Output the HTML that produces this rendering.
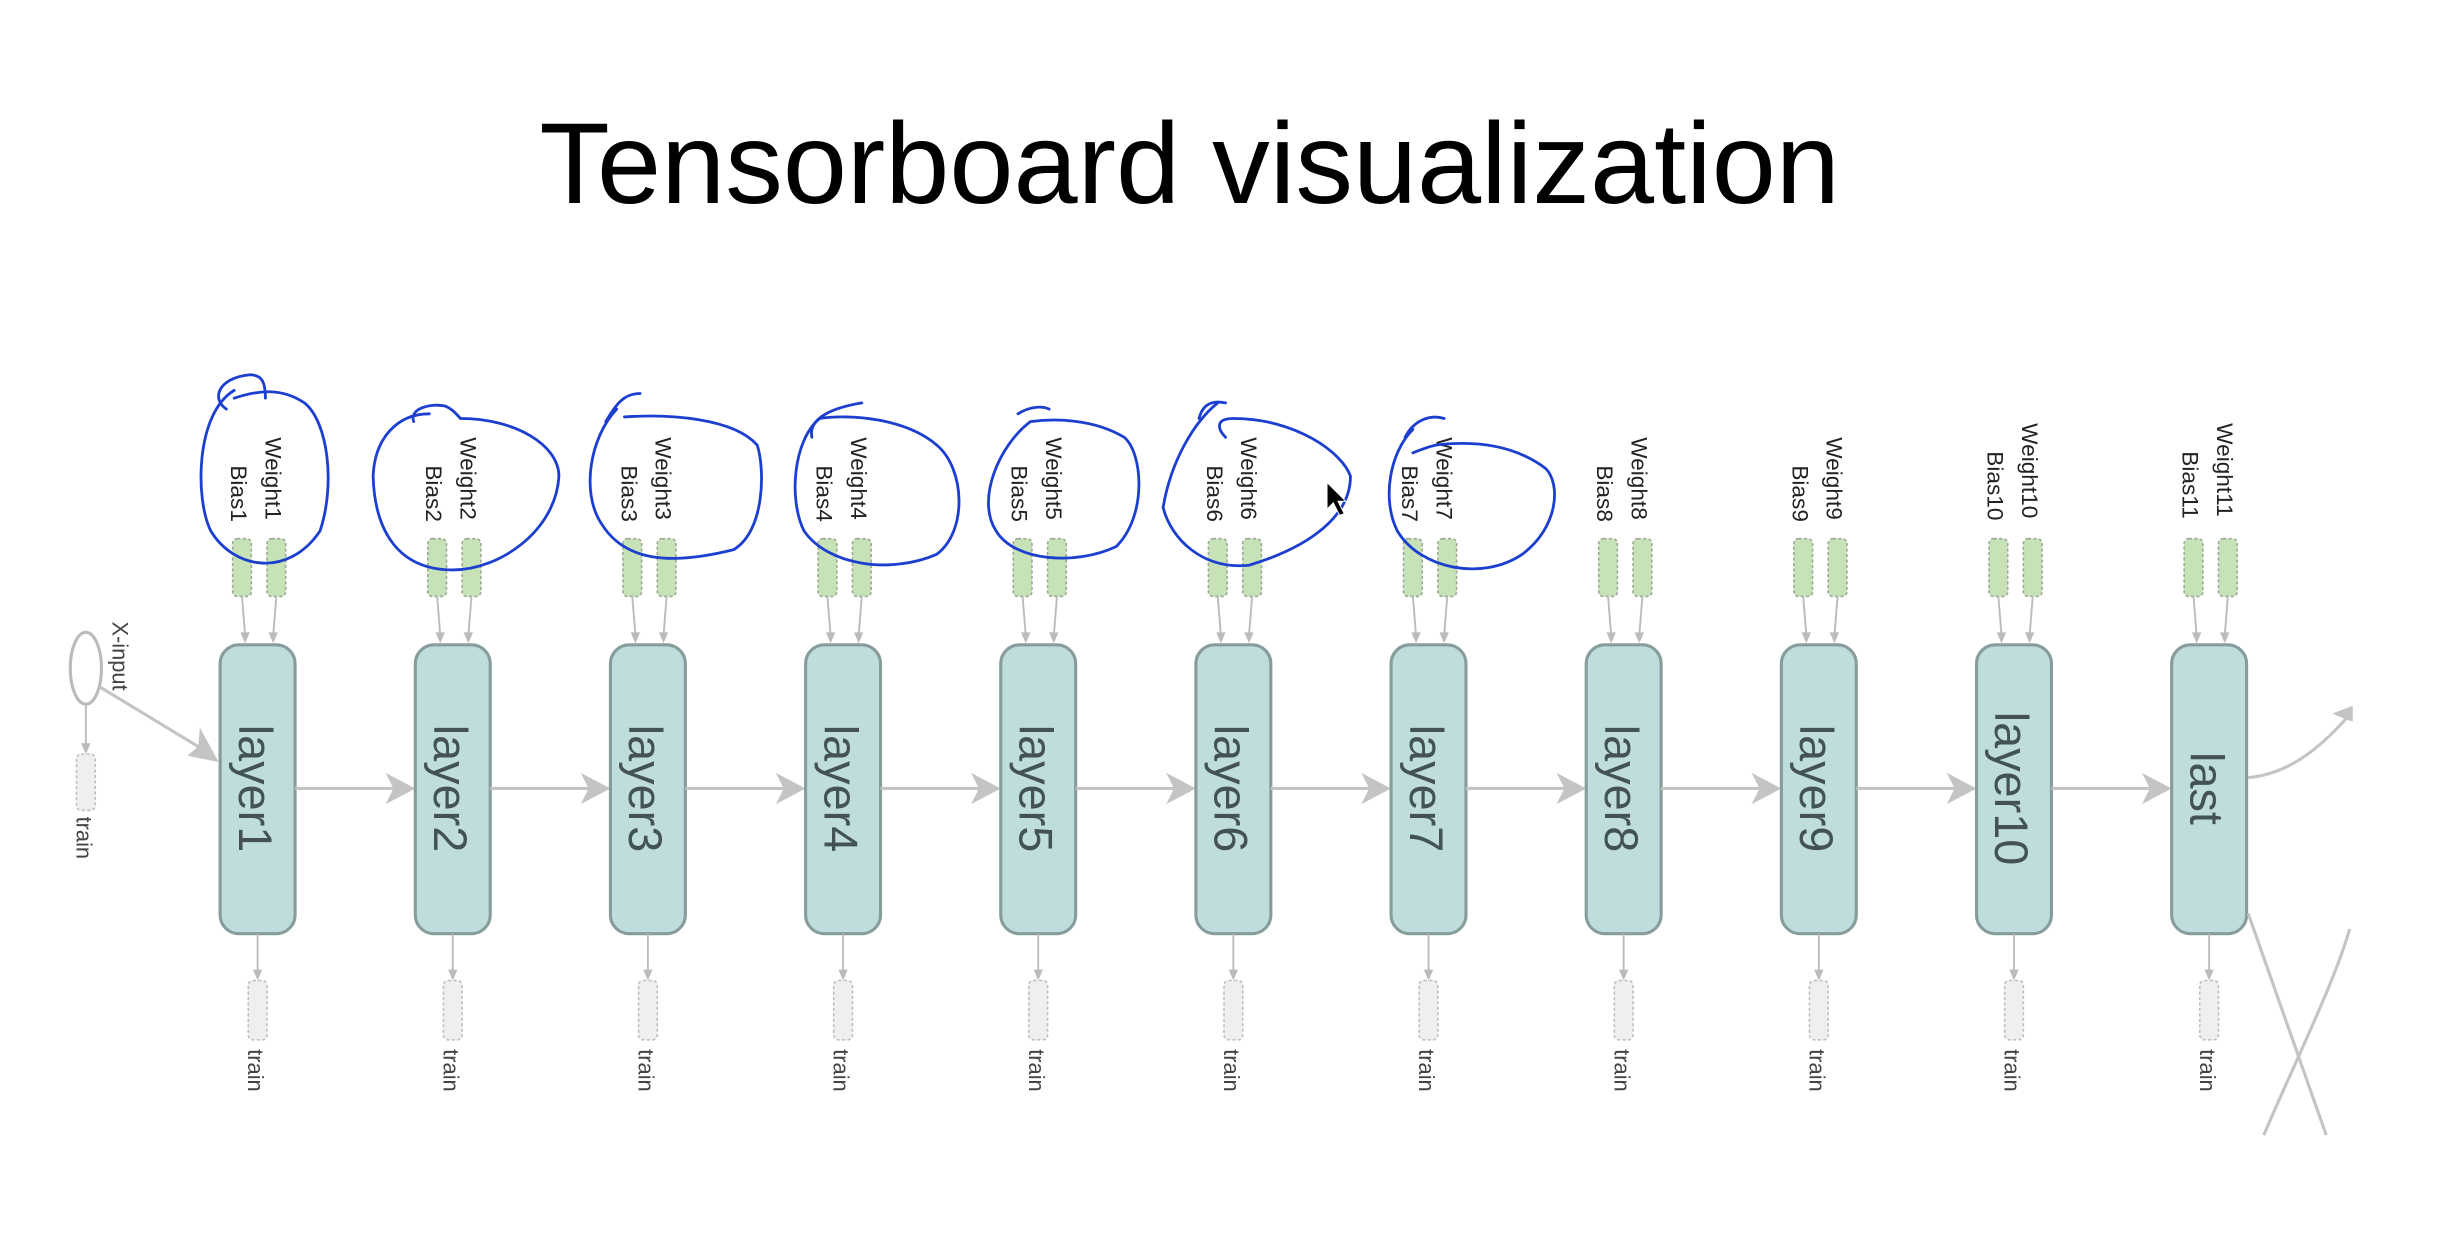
<!DOCTYPE html>
<html><head><meta charset="utf-8"><style>html,body{margin:0;padding:0;background:#fff;}svg{display:block}</style></head>
<body>
<svg width="2448" height="1246" viewBox="0 0 1568 798" xmlns="http://www.w3.org/2000/svg">
<defs>
<g id="L">
  <rect x="-16" y="345" width="12" height="37" rx="3" fill="#c8e2b8" stroke="#9aa894" stroke-width="1" stroke-dasharray="2,1.5"/>
  <rect x="6" y="345" width="12" height="37" rx="3" fill="#c8e2b8" stroke="#9aa894" stroke-width="1" stroke-dasharray="2,1.5"/>
  <line x1="-10" y1="382" x2="-8" y2="407" stroke="#bbb" stroke-width="1.2"/>
  <polygon points="-8,412 -11,405 -5,405" fill="#bbb"/>
  <line x1="12" y1="382" x2="10" y2="407" stroke="#bbb" stroke-width="1.2"/>
  <polygon points="10,412 7,405 13,405" fill="#bbb"/>
  <rect x="-24" y="413" width="48" height="185" rx="12" fill="#bfdddc" stroke="#879d9c" stroke-width="2"/>
  <line x1="0" y1="598" x2="0" y2="622" stroke="#bbb" stroke-width="1.2"/>
  <polygon points="0,628 -3,621 3,621" fill="#bbb"/>
  <rect x="-6" y="628" width="12" height="38" rx="3" fill="#efefef" stroke="#bdbdbd" stroke-width="1" stroke-dasharray="2,1.5"/>
  <text transform="translate(-6,672) rotate(90)" font-family="Liberation Sans, sans-serif" font-size="14" fill="#444">train</text>
</g>
<g id="A">
  <line x1="24" y1="505" x2="90" y2="505" stroke="#c4c4c4" stroke-width="2"/>
  <polygon points="101,505 82,495 87,505 82,515" fill="#c4c4c4"/>
</g>
</defs>

<text x="762" y="130" text-anchor="middle" font-family="Liberation Sans, sans-serif" font-size="74" fill="#000" textLength="833" lengthAdjust="spacingAndGlyphs">Tensorboard visualization</text>

<!-- X-input -->
<ellipse cx="55" cy="428" rx="10" ry="23" fill="none" stroke="#bbb" stroke-width="2"/>
<text transform="translate(72,398) rotate(90)" font-family="Liberation Sans, sans-serif" font-size="14" fill="#444">X-input</text>
<line x1="55" y1="451" x2="55" y2="478" stroke="#bbb" stroke-width="1.2"/>
<polygon points="55,483 52,476 58,476" fill="#bbb"/>
<rect x="49" y="483" width="12" height="36" rx="3" fill="#efefef" stroke="#bdbdbd" stroke-width="1" stroke-dasharray="2,1.5"/>
<text transform="translate(49,523) rotate(90)" font-family="Liberation Sans, sans-serif" font-size="14" fill="#444">train</text>
<line x1="64" y1="440" x2="130" y2="480" stroke="#c4c4c4" stroke-width="2"/>
<polygon points="140,488 120,484 127,478 128,466" fill="#c4c4c4"/>

<g font-family="Liberation Sans, sans-serif" fill="#435353">
<g transform="translate(165,0)"><use href="#L"/><use href="#A"/><text transform="translate(-12,505) rotate(90)" text-anchor="middle" font-size="30">layer1</text></g>
<g transform="translate(290,0)"><use href="#L"/><use href="#A"/><text transform="translate(-12,505) rotate(90)" text-anchor="middle" font-size="30">layer2</text></g>
<g transform="translate(415,0)"><use href="#L"/><use href="#A"/><text transform="translate(-12,505) rotate(90)" text-anchor="middle" font-size="30">layer3</text></g>
<g transform="translate(540,0)"><use href="#L"/><use href="#A"/><text transform="translate(-12,505) rotate(90)" text-anchor="middle" font-size="30">layer4</text></g>
<g transform="translate(665,0)"><use href="#L"/><use href="#A"/><text transform="translate(-12,505) rotate(90)" text-anchor="middle" font-size="30">layer5</text></g>
<g transform="translate(790,0)"><use href="#L"/><use href="#A"/><text transform="translate(-12,505) rotate(90)" text-anchor="middle" font-size="30">layer6</text></g>
<g transform="translate(915,0)"><use href="#L"/><use href="#A"/><text transform="translate(-12,505) rotate(90)" text-anchor="middle" font-size="30">layer7</text></g>
<g transform="translate(1040,0)"><use href="#L"/><use href="#A"/><text transform="translate(-12,505) rotate(90)" text-anchor="middle" font-size="30">layer8</text></g>
<g transform="translate(1165,0)"><use href="#L"/><use href="#A"/><text transform="translate(-12,505) rotate(90)" text-anchor="middle" font-size="30">layer9</text></g>
<g transform="translate(1290,0)"><use href="#L"/><use href="#A"/><text transform="translate(-12,505) rotate(90)" text-anchor="middle" font-size="30">layer10</text></g>
<g transform="translate(1415,0)"><use href="#L"/><text transform="translate(-12,505) rotate(90)" text-anchor="middle" font-size="30">last</text></g>
</g>

<!-- Weight / Bias labels -->
<g font-family="Liberation Sans, sans-serif" font-size="14.5" fill="#222">
<text transform="translate(170,280) rotate(90)">Weight1</text><text transform="translate(148,298) rotate(90)">Bias1</text>
<text transform="translate(295,280) rotate(90)">Weight2</text><text transform="translate(273,298) rotate(90)">Bias2</text>
<text transform="translate(420,280) rotate(90)">Weight3</text><text transform="translate(398,298) rotate(90)">Bias3</text>
<text transform="translate(545,280) rotate(90)">Weight4</text><text transform="translate(523,298) rotate(90)">Bias4</text>
<text transform="translate(670,280) rotate(90)">Weight5</text><text transform="translate(648,298) rotate(90)">Bias5</text>
<text transform="translate(795,280) rotate(90)">Weight6</text><text transform="translate(773,298) rotate(90)">Bias6</text>
<text transform="translate(920,280) rotate(90)">Weight7</text><text transform="translate(898,298) rotate(90)">Bias7</text>
<text transform="translate(1045,280) rotate(90)">Weight8</text><text transform="translate(1023,298) rotate(90)">Bias8</text>
<text transform="translate(1170,280) rotate(90)">Weight9</text><text transform="translate(1148,298) rotate(90)">Bias9</text>
<text transform="translate(1295,271) rotate(90)">Weight10</text><text transform="translate(1273,289) rotate(90)">Bias10</text>
<text transform="translate(1420,271) rotate(90)">Weight11</text><text transform="translate(1398,289) rotate(90)">Bias11</text>
</g>

<!-- right side edges -->
<path d="M1440,498 C1465,496 1485,480 1503,460" fill="none" stroke="#c4c4c4" stroke-width="2"/>
<polygon points="1507,452 1494,457 1503,461 1507,462" fill="#c4c4c4"/>
<line x1="1440" y1="585" x2="1490" y2="727" stroke="#c4c4c4" stroke-width="2"/>
<path d="M1450,727 C1470,680 1495,630 1505,595" fill="none" stroke="#c4c4c4" stroke-width="2"/>

<!-- hand-drawn blue circles -->
<g fill="none" stroke="#1c3fd0" stroke-width="1.8" stroke-linecap="round">
<path d="M145,262 C135,255 140,242 160,240 C168,240 170,245 170,255"/>
<path d="M150,250 C125,265 125,320 135,340 C150,365 185,370 205,340 C215,310 210,270 195,258 C180,248 165,250 150,255"/>
<path d="M265,270 C262,262 275,258 285,260 C290,262 292,265 295,268"/>
<path d="M295,268 C330,268 358,285 358,305 C356,340 320,365 290,365 C255,365 240,340 239,305 C240,280 255,265 275,265"/>
<path d="M388,270 C395,258 400,252 410,252"/>
<path d="M395,262 C378,280 372,315 385,335 C400,360 430,362 470,352 C490,340 490,300 485,285 C470,268 430,265 400,267"/>
<path d="M520,280 C518,270 528,262 552,258"/>
<path d="M525,268 C508,282 505,320 515,340 C530,362 570,368 600,355 C620,340 618,300 600,285 C580,268 545,265 525,268"/>
<path d="M652,265 C660,260 668,260 672,262"/>
<path d="M660,270 C640,285 625,320 638,340 C650,360 690,362 715,350 C735,330 732,290 720,280 C700,268 675,268 660,270"/>
<path d="M768,268 C770,260 775,256 785,258"/>
<path d="M785,280 C780,275 778,268 790,268 C830,268 860,290 865,305 C865,330 840,350 800,362 C770,365 750,345 745,325 C750,295 765,270 780,258"/>
<path d="M900,280 C905,270 915,265 925,268"/>
<path d="M905,275 C890,290 885,320 895,340 C910,365 950,372 975,355 C998,338 1000,310 990,300 C970,285 945,282 920,285 C915,286 910,288 905,290"/>
</g>

<!-- cursor -->
<path d="M850,309 L850,326 L854,322 L858,330 L861,329 L857,321 L862,321 Z" fill="#000" stroke="#fff" stroke-width="0.6"/>
</svg>
</body></html>
